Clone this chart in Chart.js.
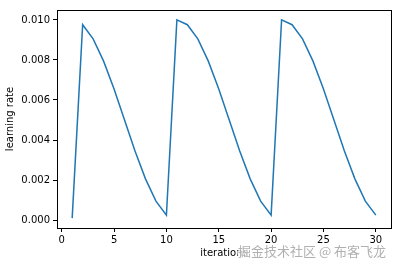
<!DOCTYPE html>
<html><head><meta charset="utf-8">
<script src="https://cdn.jsdelivr.net/npm/chart.js@4/dist/chart.umd.min.js"></script>
<style>html,body{margin:0;padding:0;background:#fff}#wrap{width:402px;height:266px}</style>
</head><body><div id="wrap"><canvas id="c" width="402" height="266"></canvas></div>
<script>
const iterations = [1,2,3,4,5,6,7,8,9,10,11,12,13,14,15,16,17,18,19,20,21,22,23,24,25,26,27,28,29,30];
const learningRate = [0.0001,0.00976,0.00905,0.00794,0.00655,0.0050,0.00345,0.00206,0.00095,0.00025,
  0.0100,0.00976,0.00905,0.00794,0.00655,0.0050,0.00345,0.00206,0.00095,0.00025,
  0.0100,0.00976,0.00905,0.00794,0.00655,0.0050,0.00345,0.00206,0.00095,0.00025];
const yTicks = [0.000,0.002,0.004,0.006,0.008,0.010];
const xTicks = [0,5,10,15,20,25,30];
const xLabel = 'iterations';
const yLabel = 'learning rate';
const watermark = '掘金技术社区 @ 布客飞龙';

const FONT = 'DejaVu Sans';
const boxPlugin = {
  id:'box',
  afterDraw(chart){
    const {ctx, chartArea:a} = chart;
    ctx.save();
    ctx.strokeStyle='#000'; ctx.lineWidth=1;
    ctx.strokeRect(Math.round(a.left)+0.5, Math.round(a.top)+0.5, Math.round(a.right-a.left), Math.round(a.bottom-a.top));
    ctx.font = '13px "Noto Sans CJK SC"';
    ctx.textAlign='left'; ctx.textBaseline='middle';
    ctx.lineWidth=2.5; ctx.strokeStyle='rgba(255,255,255,0.8)';
    ctx.strokeText(watermark, 238, 251);
    ctx.fillStyle='rgba(150,150,150,0.75)';
    ctx.fillText(watermark, 238, 251);
    ctx.restore();
  }
};
new Chart(document.getElementById('c'), {
  type:'line',
  data:{datasets:[{data: iterations.map((x,i)=>({x, y: learningRate[i]})),
    borderColor:'#1f77b4', borderWidth:1.5, pointRadius:0, tension:0, fill:false}]},
  options:{
    responsive:false, animation:false, devicePixelRatio:1,
    layout:{padding:{top:10,right:11,left:0,bottom:0}},
    plugins:{legend:{display:false}, tooltip:{enabled:false}},
    scales:{
      x:{type:'linear', min:-0.45, max:31.45,
        afterFit(s){s.height=38;},
        afterBuildTicks(s){s.ticks = xTicks.map(v=>({value:v}));},
        ticks:{color:'#000', font:{family:FONT,size:10}, padding:2, maxRotation:0, autoSkip:false, callback:v=>String(v)},
        grid:{drawOnChartArea:false, drawTicks:true, tickLength:4, color:'#000'},
        border:{display:true,color:'#000'},
        title:{display:true, text:xLabel, color:'#000', font:{family:FONT,size:10}, padding:{top:0,bottom:7}}
      },
      y:{type:'linear', min:-0.000395, max:0.010495,
        afterFit(s){s.width=57;},
        afterBuildTicks(s){s.ticks = yTicks.map(v=>({value:v}));},
        ticks:{color:'#000', font:{family:FONT,size:10}, padding:3, autoSkip:false, callback:v=>v.toFixed(3)},
        grid:{drawOnChartArea:false, drawTicks:true, tickLength:4, color:'#000'},
        border:{display:true,color:'#000'},
        title:{display:true, text:yLabel, color:'#000', font:{family:FONT,size:10}, padding:{top:4,bottom:0}}
      }
    }
  },
  plugins:[boxPlugin]
});
</script></body></html>
